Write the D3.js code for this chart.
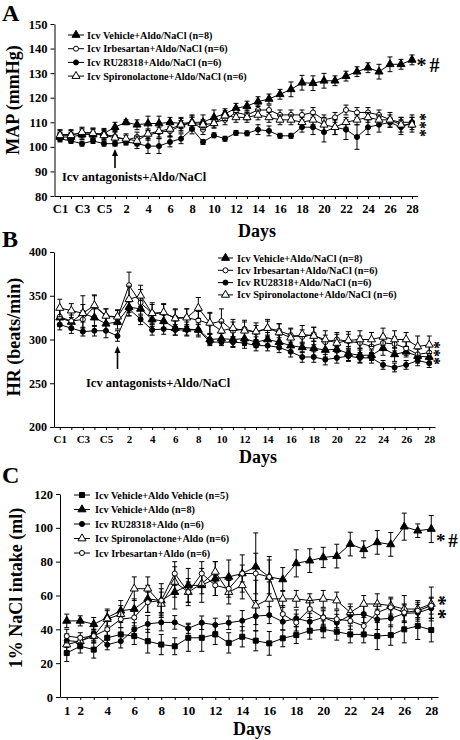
<!DOCTYPE html>
<html><head><meta charset="utf-8">
<script src="https://cdn.jsdelivr.net/npm/d3@7"></script>
<style>
body{margin:0;background:#fff}
svg text{font-family:"Liberation Serif","Times New Roman",serif;font-weight:bold;fill:#000}
</style>
</head><body>
<svg id="chart" width="460" height="740"></svg>
<script>
// ---------- categories / tick labels ----------
const catsAB = ["C1","C2","C3","C4","C5","1","2","3","4","5","6","7","8","9","10","11","12","13","14","15","16","17","18","19","20","21","22","23","24","25","26","27","28"];
const shownAB = ["C1","C3","C5","2","4","6","8","10","12","14","16","18","20","22","24","26","28"];
const catsC = ["1","2","3","4","5","6","7","8","9","10","11","12","13","14","15","16","17","18","19","20","21","22","23","24","25","26","27","28"];
const shownC = ["1","2","4","6","8","10","12","14","16","18","20","22","24","26","28"];
const ticksA = [80,90,100,110,120,130,140,150];
const ticksB = [200,250,300,350,400];
const ticksC = [0,20,40,60,80,100,120];

// ---------- Panel A: MAP ----------
const aVehicle = [104,104,105,105,105.5,108,110,109,109.5,109.5,110,109.5,110,110,112,113.5,115.7,116.6,118.4,119.5,121.4,123.4,126.1,125.9,126.9,126.9,128.8,130.6,132.2,130.6,133.6,133.6,135.4];
const aVehicleErr = [2,2,2,2,2,2,1,2,3,3,2,2,2,3,3,2,2,2,2,2,2,3,3,3,3,2,2,2,2,3,3,2,2];
const aIrb = [105,105,105.6,105.6,105,104.3,102.7,104,104.7,106,106.4,108.7,110,107,110,111,114,113,115,115,113,113,113,114,111,112,115,114,114,113,111,110,110];
const aIrbErr = [2,2,2,2,2,2,2,2,2,2,2,2,3,2,2,2,2,2,2,2,2,2,2,2,2,2,2,2,2,2,2,2,2];
const aRU = [103.3,102.4,101.3,102.4,101.3,101.3,102,101.3,100.3,100.3,102,103.3,107.3,102,104.7,103.3,105.7,105.5,107,106.5,104.5,104.5,108,108,106,108,107,104,108,109,110,108,110];
const aRUErr = [1,1,1,1,1,1,1,2,3,3,2,2,2,1,1,1,1,1,2,2,1,1,2,3,4,3,4,5,3,3,2,3,3];
const aSpiro = [104.7,104.7,106,105.6,104.7,103.7,103.3,102.4,105.3,106.4,107.3,109,109.6,109,109.6,112.7,112,112,113,112,111,111,110,111,109,108,110,111,112,111,111,109,109];
const aSpiroErr = [2,2,2,2,2,3,2,2,2,3,3,3,3,2,2,2,2,2,2,2,2,2,2,2,3,3,2,2,2,2,3,3,3];
const legendA = ["Icv Vehicle+Aldo/NaCl (n=8)","Icv Irbesartan+Aldo/NaCl (n=6)","Icv RU28318+Aldo/NaCl (n=6)","Icv Spironolactone+Aldo/NaCl (n=6)"];

// ---------- Panel B: HR ----------
const bVehicle = [325,320,330,325,318,320,337,335,323,321,313,312,311,300,301,300,301,297,300,297,293,291,290,288,289,284,282,282,290,283,286,281,280];
const bVehicleErr = [10,8,10,10,8,8,10,10,8,8,8,8,8,6,6,8,8,6,8,8,8,6,8,8,8,8,8,6,8,8,6,8,6];
const bIrb = [326,321,323,338,327,325,362,342,330,330,325,325,322,318,321,310,312,308,313,310,305,303,306,297,300,298,296,292,296,295,290,283,285];
const bIrbErr = [10,10,10,12,8,8,15,15,12,10,10,10,10,12,14,10,10,8,8,8,8,8,8,8,8,8,8,8,8,8,8,8,8];
const bRU = [317,313,309,310,310,304,335,323,311,312,311,311,311,297,297,297,296,293,293,291,286,280,280,277,279,281,279,279,271,268,271,276,273];
const bRUErr = [6,6,5,6,8,6,8,6,6,6,6,6,6,4,4,6,6,6,6,6,6,6,6,6,6,6,6,6,5,5,5,6,5];
const bSpiro = [336,333,330,339,327,326,346,350,330,331,324,325,336,319,310,313,310,309,313,308,302,306,304,300,296,299,300,300,303,300,300,292,294];
const bSpiroErr = [10,8,20,12,8,8,15,12,10,10,10,10,12,12,10,10,10,10,10,10,10,10,10,10,10,10,10,8,10,10,8,12,10];
const legendB = ["Icv Vehicle+Aldo/NaCl (n=8)","Icv Irbesartan+Aldo/NaCl (n=6)","Icv RU28318+Aldo/NaCl (n=6)","Icv Spironolactone+Aldo/NaCl (n=6)"];

// ---------- Panel C: 1% NaCl intake ----------
const cAldoVeh = [26,30,28,35,37,36,33,31,30,35,35,37,32,35.6,33.3,31.7,34.7,36.6,39.2,40,38.6,37,37,36,36.6,40,42,39.6];
const cAldoVehErr = [5,4,5,4,4,5,7,6,5,8,8,6,6,6,6,7,5,5,5,5,5,5,5,8,6,8,8,7];
const cAldo = [45,45,43,47,51,52,58,57,62,66,66,70,71,73,77,71,69.5,79,80.6,82.5,83.3,90.4,87.3,91.4,90.2,100.7,98.3,99.3];
const cAldoErr = [4,3,4,5,6,6,8,10,10,10,10,10,10,11,20,12,7,8,7,6,7,7,5,7,7,8,4,8];
const cRU = [33.3,32.7,37.6,30.9,33,39.9,43.2,44.1,44.1,40.6,43.9,42.6,43.9,45.1,47.8,48.4,44.5,46.5,44.5,47.1,43.9,48.4,49,45.9,46.5,49.4,49.8,52.4];
const cRUErr = [4,3,4,3,4,4,5,5,4,3,4,4,4,6,5,5,5,5,5,5,5,5,5,6,5,5,5,6];
const cSpiro = [31,33,36,46,49,64,64,55,68,62,67,74,62,66,54,58,58,58,57,58,57,50,55,55,54,52,52,55];
const cSpiroErr = [4,3,4,5,5,7,7,7,9,6,6,6,7,8,15,10,5,5,4,5,5,5,5,6,5,8,5,10];
const cIrb = [36,35,36,40,46,47,56,57,73,62,73,66,64,73,73,71,49,44,52,47,46,45,42,50,53,50,51,54];
const cIrbErr = [4,3,4,5,5,5,6,7,7,8,7,6,5,5,12,10,5,5,5,4,5,5,5,5,5,5,5,5];
const legendC = ["Icv Vehicle+Aldo Vehicle (n=5)","Icv Vehicle+Aldo (n=8)","Icv RU28318+Aldo (n=6)","Icv Spironolactone+Aldo (n=6)","Icv Irbesartan+Aldo (n=6)"];

const svg = d3.select("#chart");

const MK = {
  triF:{type:d3.symbolTriangle,size:28,fill:"#000"},
  triO:{type:d3.symbolTriangle,size:28,fill:"#fff"},
  cirF:{type:d3.symbolCircle,size:20,fill:"#000"},
  cirO:{type:d3.symbolCircle,size:20,fill:"#fff"},
  sqF:{type:d3.symbolSquare,size:25,fill:"#000"}
};
function marker(g, m, cx, cy){
  g.append("path").attr("d", d3.symbol().type(m.type).size(m.size)())
   .attr("transform",`translate(${cx},${cy})`)
   .attr("fill", m.fill).attr("stroke","#000").attr("stroke-width",1);
}

function panel(o){
  const g = svg.append("g");
  const x = d3.scalePoint(o.cats, o.xr).padding(0.5);
  const y = d3.scaleLinear(o.yd, o.yr);
  const xa = g.append("g").attr("transform",`translate(0,${o.yr[0]})`)
    .call(d3.axisBottom(x).tickSizeInner(3).tickSizeOuter(0).tickPadding(o.xpad)
      .tickFormat(d => o.shown.includes(d) ? d : ""));
  xa.selectAll("text").attr("font-size", o.xfs).attr("font-family",null);
  const ya = g.append("g").attr("transform",`translate(${o.xr[0]},0)`)
    .call(d3.axisLeft(y).tickValues(o.yticks).tickSizeInner(4).tickSizeOuter(0).tickPadding(3));
  ya.selectAll("text").attr("font-size", o.yfs).attr("font-family",null);
  g.selectAll(".domain,.tick line").attr("stroke","#000").attr("stroke-width",1);

  o.series.forEach(s => {
    const line = d3.line().x((d,i)=>x(o.cats[i])).y(d=>y(d));
    g.append("path").datum(s.v).attr("d",line).attr("fill","none").attr("stroke","#000").attr("stroke-width",1);
    s.v.forEach((v,i)=>{
      const cx = x(o.cats[i]), e = s.e[i];
      const y1 = y(v+e), y2 = y(v-e);
      g.append("line").attr("x1",cx).attr("x2",cx).attr("y1",y1).attr("y2",y2).attr("stroke","#000");
      g.append("line").attr("x1",cx-2.5).attr("x2",cx+2.5).attr("y1",y1).attr("y2",y1).attr("stroke","#000");
      g.append("line").attr("x1",cx-2.5).attr("x2",cx+2.5).attr("y1",y2).attr("y2",y2).attr("stroke","#000");
    });
    s.v.forEach((v,i)=> marker(g, s.m, x(o.cats[i]), y(v)));
  });
  o.series.forEach((s,k)=>{
    const ly = o.leg.y + k*o.leg.dy;
    g.append("line").attr("x1",o.leg.x).attr("x2",o.leg.x+o.leg.w).attr("y1",ly).attr("y2",ly).attr("stroke","#000");
    marker(g, s.m, o.leg.x+o.leg.w/2, ly);
  });
  o.legendText.forEach((t,k)=>{
    g.append("text").attr("x",o.leg.tx).attr("y",o.leg.y + k*o.leg.dy + 3.5)
      .attr("font-size",o.leg.fs).text(t);
  });
  g.append("text").attr("transform",`translate(${o.yt.x},${o.yt.y}) rotate(-90)`)
    .attr("text-anchor","middle").attr("font-size",18).text(o.ytitle);
  g.append("text").attr("x",o.days.x).attr("y",o.days.y).attr("text-anchor","middle").attr("font-size",18).text("Days");
  g.append("text").attr("x",2).attr("y",o.letter.y).attr("font-size",24).text(o.letter.t);
  return {g,x,y};
}

const A = panel({
  cats: catsAB, shown: shownAB, xr:[54.5,417.5], yd:[80,150], yr:[196,24], yticks:ticksA,
  xfs:12.5, yfs:12.5, xpad:5,
  series:[
    {v:aVehicle,e:aVehicleErr,m:MK.triF},
    {v:aIrb,e:aIrbErr,m:MK.cirO},
    {v:aRU,e:aRUErr,m:MK.cirF},
    {v:aSpiro,e:aSpiroErr,m:MK.triO}
  ],
  leg:{x:68,w:16,y:35,dy:13.7,tx:87,fs:10.2},
  legendText: legendA,
  ytitle:"MAP (mmHg)", yt:{x:19,y:100}, days:{x:257,y:237}, letter:{t:"A",y:21}
});
const B = panel({
  cats: catsAB, shown: shownAB, xr:[54,435], yd:[200,400], yr:[427,252], yticks:ticksB,
  xfs:11, yfs:12, xpad:5,
  series:[
    {v:bVehicle,e:bVehicleErr,m:MK.triF},
    {v:bIrb,e:bIrbErr,m:MK.cirO},
    {v:bRU,e:bRUErr,m:MK.cirF},
    {v:bSpiro,e:bSpiroErr,m:MK.triO}
  ],
  leg:{x:218,w:15,y:258,dy:12.3,tx:237,fs:10.2},
  legendText: legendB,
  ytitle:"HR (beats/min)", yt:{x:20,y:337}, days:{x:258,y:462.5}, letter:{t:"B",y:247}
});
const C = panel({
  cats: catsC, shown: shownC, xr:[60,438], yd:[0,120], yr:[697,494], yticks:ticksC,
  xfs:13, yfs:12.5, xpad:6,
  series:[
    {v:cAldoVeh,e:cAldoVehErr,m:MK.sqF},
    {v:cAldo,e:cAldoErr,m:MK.triF},
    {v:cRU,e:cRUErr,m:MK.cirF},
    {v:cSpiro,e:cSpiroErr,m:MK.triO},
    {v:cIrb,e:cIrbErr,m:MK.cirO}
  ],
  leg:{x:74,w:16,y:495,dy:14.5,tx:95,fs:10.2},
  legendText: legendC,
  ytitle:"1% NaCl intake (ml)", yt:{x:22,y:588}, days:{x:252,y:735}, letter:{t:"C",y:483}
});

function arrow(p, cat, yTop, yBot){
  const cx = p.x(cat);
  p.g.append("line").attr("x1",cx).attr("x2",cx).attr("y1",yTop+5).attr("y2",yBot).attr("stroke","#000").attr("stroke-width",1.6);
  p.g.append("path").attr("d",`M${cx-3},${yTop+7}L${cx},${yTop}L${cx+3},${yTop+7}Z`).attr("fill","#000");
}
arrow(A,"1",149,168);
A.g.append("text").attr("x",62).attr("y",181).attr("font-size",12.5).text("Icv antagonists+Aldo/NaCl");
arrow(B,"1",346,369);
B.g.append("text").attr("x",86).attr("y",387).attr("font-size",12.5).text("Icv antagonists+Aldo/NaCl");

// significance marks: "* #" in one text; stacked asterisks as one text running downward
function pairMark(g, x, y, t, fs){
  g.append("text").attr("x",x).attr("y",y).attr("font-size",fs).attr("font-weight","normal")
   .attr("word-spacing",-2).text(t);
}
function stackMark(g, x, y, t, fs, ls){
  g.append("text").attr("transform",`translate(${x},${y}) rotate(90)`).attr("font-size",fs)
   .attr("font-weight","normal").attr("letter-spacing",ls).text(t);
}
pairMark(A.g, 416.5, 72, "* #", 20);
stackMark(A.g, 415, 113, "***", 16, 0);
stackMark(B.g, 429, 341, "***", 16, 0);
pairMark(C.g, 436, 547, "* #", 19);
stackMark(C.g, 432, 595, "**", 22, 2.5);
</script>
</body></html>
